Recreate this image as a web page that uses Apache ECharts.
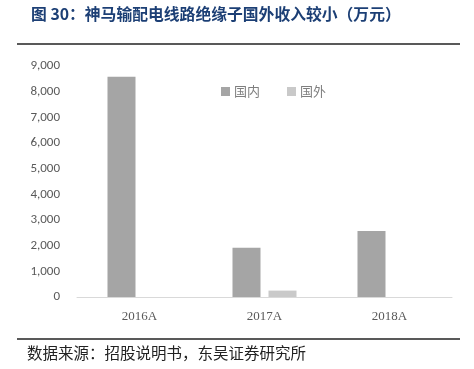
<!DOCTYPE html>
<html><head><meta charset="utf-8">
<script src="https://cdn.jsdelivr.net/npm/echarts@6/dist/echarts.min.js"></script>
<style>html,body{margin:0;padding:0;background:#fff}#c{width:474px;height:369px}</style>
</head><body><div id="c"></div>
<script>
const categories = ['2016A', '2017A', '2018A'];
const domestic = [8580, 1920, 2570];
const foreign = [0, 250, 0];
const yTicks = [0, 1000, 2000, 3000, 4000, 5000, 6000, 7000, 8000, 9000];
const seriesNames = ['国内', '国外'];
const titleText = '图 30：神马输配电线路绝缘子国外收入较小（万元）';
const sourceText = '数据来源：招股说明书，东吴证券研究所';

const chart = echarts.init(document.getElementById('c'), null, {renderer: 'canvas'});
chart.setOption({
  animation: false,
  backgroundColor: '#fff',
  title: {
    text: titleText, left: 26, top: 1,
    textStyle: {fontFamily: '"Noto Sans CJK SC"', fontWeight: 'bold', fontSize: 15.8, color: '#1c3f75'}
  },
  legend: {
    data: seriesNames, left: 216, top: 80, itemWidth: 9, itemHeight: 9, itemGap: 27,
    icon: 'rect',
    textStyle: {fontFamily: '"Noto Sans CJK SC"', fontSize: 13, color: '#7f7f7f', padding: [0, 0, 0, -1]}
  },
  grid: {left: 77, right: 22, top: 66, bottom: 72, containLabel: false},
  xAxis: {
    type: 'category', data: categories,
    axisLine: {lineStyle: {color: '#d9d9d9'}},
    axisTick: {show: false},
    axisLabel: {fontFamily: '"Liberation Serif"', fontSize: 13, color: '#595959', margin: 13}
  },
  yAxis: {
    type: 'value', min: yTicks[0], max: yTicks[yTicks.length - 1], interval: 1000,
    axisLine: {show: false}, axisTick: {show: false}, splitLine: {show: false},
    axisLabel: {fontFamily: 'Calibri, "Liberation Sans", "Noto Sans"', fontSize: 13, color: '#595959', margin: 17,
      formatter: v => v.toLocaleString('en-US')}
  },
  series: [
    {name: seriesNames[0], type: 'bar', data: domestic, barWidth: 28, barGap: '28.6%', itemStyle: {color: '#a5a5a5'}},
    {name: seriesNames[1], type: 'bar', data: foreign, barWidth: 28, itemStyle: {color: '#c9c9c9'}}
  ],
  graphic: [
    {type: 'line', shape: {x1: 17, y1: 44, x2: 460, y2: 44}, style: {stroke: '#222', lineWidth: 1.5}},
    {type: 'line', shape: {x1: 17, y1: 339, x2: 460, y2: 339}, style: {stroke: '#222', lineWidth: 1.5}},
    {type: 'text', left: 27, top: 345, style: {text: sourceText, font: '15.5px "Noto Sans CJK SC"', fill: '#222'}}
  ]
});
</script></body></html>
